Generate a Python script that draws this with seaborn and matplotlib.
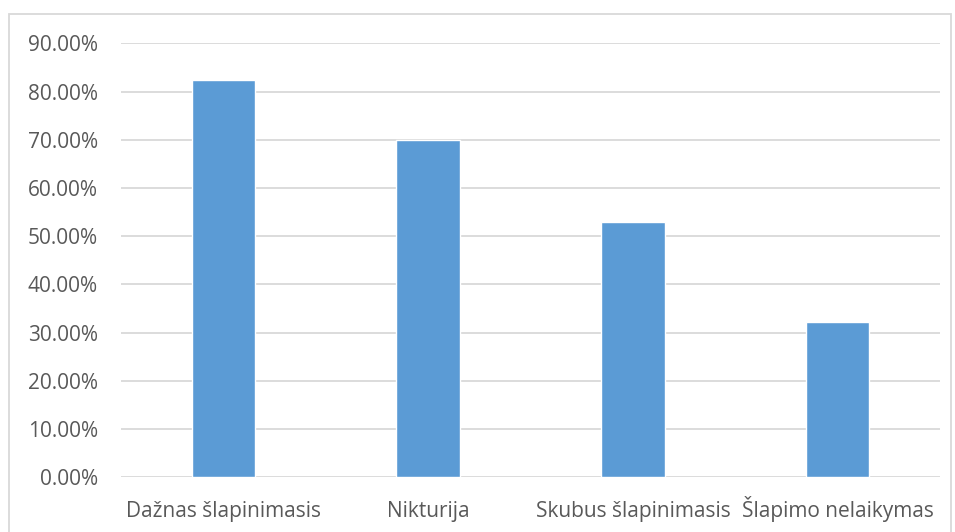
import matplotlib
matplotlib.use("Agg")
import matplotlib.pyplot as plt
from matplotlib.patches import Rectangle
from matplotlib.ticker import PercentFormatter, MultipleLocator
import seaborn as sns
import pandas as pd

categories = ["Dažnas šlapinimasis", "Nikturija", "Skubus šlapinimasis", "Šlapimo nelaikymas"]
shares = [0.824, 0.700, 0.530, 0.322]

df = pd.DataFrame({"symptom": categories, "share": shares})

sns.set_theme(style="white")
plt.rcParams["font.family"] = ["Open Sans", "DejaVu Sans"]

fig = plt.figure(figsize=(9.55, 5.32), dpi=100)
ax = fig.add_axes([121 / 955, 1 - 477.3 / 532, (940 - 121) / 955, (477.3 - 43.3) / 532])

sns.barplot(data=df, x="symptom", y="share", color="#5B9BD5", saturation=1,
            width=0.31, ax=ax, zorder=3)

ax.set_ylim(0, 0.9)
ax.set_xlim(-0.5, 3.5)
ax.yaxis.set_major_locator(MultipleLocator(0.1))
ax.yaxis.set_major_formatter(PercentFormatter(xmax=1, decimals=2))
ax.grid(axis="y", color="#D9D9D9", linewidth=1.3, zorder=0)
ax.set_axisbelow(True)
for s in ax.spines.values():
    s.set_visible(False)
ax.set_xlabel("")
ax.set_ylabel("")
ax.tick_params(axis="both", length=0, labelsize=15, labelcolor="#595959")
ax.tick_params(axis="y", pad=16.5)
ax.tick_params(axis="x", pad=28.8)
for lbl in ax.get_xticklabels():
    lbl.set_verticalalignment("baseline")

# chart area frame
fig.patches.append(Rectangle((9 / 955, -0.05), (951 - 9) / 955, 1.05 - 14 / 532,
                             transform=fig.transFigure, fill=False,
                             edgecolor="#D9D9D9", linewidth=1.3))

fig.savefig("out.png", dpi=100)
